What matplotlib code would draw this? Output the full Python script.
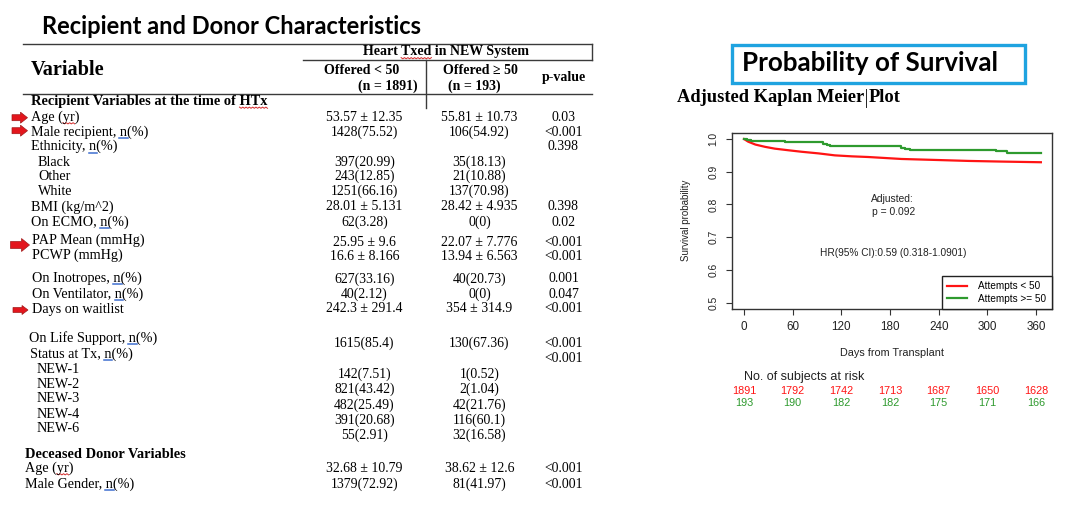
import matplotlib
matplotlib.use("Agg")
import matplotlib.pyplot as plt
from matplotlib.transforms import Affine2D
from matplotlib.lines import Line2D
from matplotlib.patches import FancyArrow, Rectangle

# ------------------------------------------------------------------ data
row_labels = [
    "Recipient Variables at the time of HTx", "Age (yr)", "Male recipient, n(%)",
    "Ethnicity, n(%)", "Black", "Other", "White", "BMI (kg/m^2)", "On ECMO, n(%)",
    "PAP Mean (mmHg)", "PCWP (mmHg)", "On Inotropes, n(%)", "On Ventilator, n(%)",
    "Days on waitlist", "On Life Support, n(%)", "Status at Tx, n(%)", "NEW-1",
    "NEW-2", "NEW-3", "NEW-4", "NEW-6", "Deceased Donor Variables", "Age (yr)",
    "Male Gender, n(%)",
]
col1_vals = [
    "", "53.57 ± 12.35", "1428(75.52)", "", "397(20.99)", "243(12.85)", "1251(66.16)",
    "28.01 ± 5.131", "62(3.28)", "25.95 ± 9.6", "16.6 ± 8.166", "627(33.16)", "40(2.12)",
    "242.3 ± 291.4", "1615(85.4)", "", "142(7.51)", "821(43.42)", "482(25.49)",
    "391(20.68)", "55(2.91)", "", "32.68 ± 10.79", "1379(72.92)",
]
col2_vals = [
    "", "55.81 ± 10.73", "106(54.92)", "", "35(18.13)", "21(10.88)", "137(70.98)",
    "28.42 ± 4.935", "0(0)", "22.07 ± 7.776", "13.94 ± 6.563", "40(20.73)", "0(0)",
    "354 ± 314.9", "130(67.36)", "", "1(0.52)", "2(1.04)", "42(21.76)", "116(60.1)",
    "32(16.58)", "", "38.62 ± 12.6", "81(41.97)",
]
p_vals = [
    "", "0.03", "<0.001", "0.398", "", "", "", "0.398", "0.02", "<0.001", "<0.001",
    "0.001", "0.047", "<0.001", "<0.001", "<0.001", "", "", "", "", "", "", "<0.001",
    "<0.001",
]
group1_name = "Offered < 50"
group2_name = "Offered ≥ 50"
group1_n = "(n = 1891)"
group2_n = "(n = 193)"

km_red_days = [0, 5, 14, 26, 38, 55, 71, 92, 112, 133, 153, 194, 236, 277, 318, 366]
km_red_surv = [1.0, 0.992, 0.983, 0.976, 0.9705, 0.9655, 0.961, 0.956, 0.950, 0.947,
               0.945, 0.939, 0.936, 0.933, 0.931, 0.929]
km_green_days = [0, 4, 9, 50, 98, 102, 106, 193, 198, 205, 311, 324, 366]
km_green_surv = [1.0, 0.997, 0.994, 0.990, 0.985, 0.982, 0.979, 0.974, 0.970, 0.967,
                 0.962, 0.956, 0.956]
risk_times = [0, 60, 120, 180, 240, 300, 360]
risk_red = [1891, 1792, 1742, 1713, 1687, 1650, 1628]
risk_green = [193, 190, 182, 182, 175, 171, 166]
surv_ticks = [0.5, 0.6, 0.7, 0.8, 0.9, 1.0]
legend_labels = ["Attempts < 50", "Attempts >= 50"]

# ------------------------------------------------------------------ layout
W, H = 1079, 505
fig = plt.figure(figsize=(W / 100, H / 100), dpi=100)
fig.patch.set_facecolor("white")
px = Affine2D().scale(1 / W, -1 / H).translate(0, 1) + fig.transFigure

SERIF = ["Liberation Serif", "DejaVu Serif"]
SANS = ["Liberation Sans", "DejaVu Sans"]
TITLEF = ["Lato", "DejaVu Sans"]
RED = "#FF1414"
GREEN = "#2E9A2E"

renderer = fig.canvas.get_renderer()


def fit(t, target_w):
    bb = t.get_window_extent(renderer=renderer)
    t.set_fontsize(t.get_fontsize() * target_w / bb.width)


def text_w(s, **kw):
    tmp = fig.text(0, 0, s, **kw)
    w = tmp.get_window_extent(renderer=renderer).width
    tmp.remove()
    return w


def hline(x0, x1, y, lw=1.0, c="#3a3a3a"):
    fig.add_artist(Line2D([x0, x1], [y, y], transform=px, lw=lw, color=c))


def vline(x, y0, y1, lw=1.0, c="#3a3a3a"):
    fig.add_artist(Line2D([x, x], [y0, y1], transform=px, lw=lw, color=c))


def squiggle(x0, x1, y, c="#D42A2A"):
    n = max(2, int((x1 - x0) / 1.6))
    xs = [x0 + (x1 - x0) * k / n for k in range(n + 1)]
    ys = [y + (0.8 if k % 2 else -0.4) for k in range(n + 1)]
    fig.add_artist(Line2D(xs, ys, transform=px, lw=0.7, color=c))


def mark_sub(s, key, nchar, x0, y, props, kind):
    # mark the first `nchar` characters of substring `key` inside `s` drawn at x0
    i = s.index(key)
    sub = key[:nchar]
    pre = s[: i + nchar]
    xe = x0 + text_w(pre, **props)
    xs = xe - text_w(sub, **props)
    if kind == "red":
        squiggle(xs, xe, y)
    else:
        hline(xs - 0.5, xe + 1.0, y, lw=1.1, c="#3E6FD0")


# ---- left title
t = fig.text(42, 27, "Recipient and Donor Characteristics", transform=px, family=TITLEF,
             weight="bold", fontsize=15, va="center", ha="left")
fit(t, 381)

# ---- table rules
hline(23, 592, 44)
vline(592, 44, 59.5)
hline(303, 592, 59.5)
vline(425.5, 59.5, 108)
hline(23, 592, 93.5)

# ---- header texts
fig.text(31, 70, "Variable", transform=px, family=SERIF, weight="bold", fontsize=14.6,
         va="center", ha="left")
hdr = dict(transform=px, family=SERIF, weight="bold", fontsize=10)
th = fig.text(446, 52, "Heart Txed in NEW System", va="center", ha="center", **hdr)
fig.text(362, 70, group1_name, va="center", ha="center", **hdr)
fig.text(388, 86, group1_n, va="center", ha="center", **hdr)
fig.text(480, 70, group2_name, va="center", ha="center", **hdr)
fig.text(474, 86, group2_n, va="center", ha="center", **hdr)
fig.text(563.5, 78, "p-value", va="center", ha="center", **hdr)
hw_ = th.get_window_extent(renderer=renderer).width
mark_sub("Heart Txed in NEW System", "Txed", 4, 446 - hw_ / 2, 58,
         dict(family=SERIF, weight="bold", fontsize=10), "red")

# ---- body rows
label_x = [31, 31, 31, 31, 38, 38, 38, 30.6, 31.4, 32.5, 32.5, 32.5, 32.5, 32.5, 28.7,
           29.9, 36.4, 36.4, 36.4, 36.4, 36.4, 24.9, 24.9, 24.9]
label_y = [101.7, 117.3, 132.3, 146.7, 162, 176.7, 191.7, 207, 222, 240.5, 255, 278,
           294, 309, 338.3, 354.3, 369.3, 384, 399, 414.3, 428.5, 454, 468.3, 484]
value_y = [101.7, 117.3, 132.3, 146.7, 162, 176.7, 191.7, 207, 222, 242.5, 257, 279,
           294, 309, 343.3, 359, 374.3, 389.3, 405, 420, 435, 454, 468.3, 484]
bold_rows = {0, 21}
C1, C2, CP = 364.5, 479.5, 563.5
for i, lab in enumerate(row_labels):
    props = dict(family=SERIF, weight="bold" if i in bold_rows else "normal",
                 fontsize=10.4 if i in bold_rows else 10.2)
    fig.text(label_x[i], label_y[i], lab, transform=px, va="center", ha="left", **props)
    uy = label_y[i] + 5.8
    if "HTx" in lab:
        mark_sub(lab, "HTx", 3, label_x[i], uy, props, "red")
    if "(yr)" in lab:
        mark_sub(lab, "yr)", 2, label_x[i], uy, props, "red")
    if "n(%)" in lab:
        mark_sub(lab, "n(%)", 1, label_x[i], uy, props, "blue")
    for cx, vals in ((C1, col1_vals), (C2, col2_vals), (CP, p_vals)):
        if vals[i]:
            fig.text(cx, value_y[i], vals[i], transform=px, family=SERIF, fontsize=9.9,
                     va="center", ha="center")

# ---- red arrows
arrow_rows = [(117.7, 12, 27.5, 6, 11, 7), (130.7, 12, 27.5, 6, 11, 7),
              (245, 10.5, 29.5, 7, 13, 8), (310, 13, 28, 5, 9, 6)]
for y, x0, x1, w, hw, hl in arrow_rows:
    fig.add_artist(FancyArrow(x0, y, x1 - x0, 0, width=w, head_width=hw, head_length=hl,
                              length_includes_head=True, transform=px,
                              facecolor="#E3161D", edgecolor="#A01A1A", lw=0.5))

# ---- right header box
fig.add_artist(Rectangle((732, 45), 293, 37.7, transform=px, fill=False,
                         edgecolor="#1FA3E0", lw=2.4))
t = fig.text(742.5, 63, "Probability of Survival", transform=px, family=TITLEF,
             weight="bold", fontsize=16, va="center", ha="left")
fit(t, 257)

t1 = fig.text(677, 98, "Adjusted Kaplan Meier", transform=px, family=SERIF,
              weight="bold", fontsize=13, va="center", ha="left")
t2 = fig.text(0, 98, "Plot", transform=px, family=SERIF, weight="bold", fontsize=13,
              va="center", ha="left")
w1 = t1.get_window_extent(renderer=renderer).width
w2 = t2.get_window_extent(renderer=renderer).width
scale = 223 / (w1 + w2 + 4)
t1.set_fontsize(13 * scale)
t2.set_fontsize(13 * scale)
w1 = t1.get_window_extent(renderer=renderer).width
t2.set_position((677 + w1 + 4, 98))
vline(677 + w1 + 1.5, 89, 107, lw=0.7, c="#222222")

# ---- KM axes
ax = fig.add_axes([732 / W, 1 - 309 / H, 320 / W, 176 / H])
ax.plot(km_red_days, km_red_surv, color=RED, lw=1.6, label=legend_labels[0])
ax.plot(km_green_days, km_green_surv, color=GREEN, lw=1.6, drawstyle="steps-post",
        label=legend_labels[1])
ax.set_xlim(-14.8, 379.7)
ax.set_ylim(0.4808, 1.0183)
ax.set_xticks(risk_times)
ax.set_yticks(surv_ticks)
ax.set_xticklabels([str(v) for v in risk_times], family=SANS, fontsize=8.4, color="#222")
ax.set_yticklabels([f"{v:.1f}" for v in surv_ticks], family=SANS, fontsize=7.4,
                   color="#222", rotation=90, va="center")
ax.tick_params(axis="x", direction="out", length=4.3, width=0.8, pad=4.5, color="#333")
ax.tick_params(axis="y", direction="out", length=4.3, width=0.8, pad=5.5, color="#333")
for s in ax.spines.values():
    s.set_linewidth(1.0)
    s.set_color("#333333")

ax.text(0.5, (309 - 353) / 176, "Days from Transplant", transform=ax.transAxes,
        family=SANS, fontsize=7.8, ha="center", va="center", color="#222")
ax.text((686 - 732) / 320, (309 - 220) / 176, "Survival probability", transform=ax.transAxes,
        family=SANS, fontsize=7.0, rotation=90, ha="center", va="center", color="#222")

ax.text(183, 0.817, "Adjusted:", family=SANS, fontsize=7.4, ha="center", va="center",
        color="#222")
ax.text(185, 0.777, "p = 0.092", family=SANS, fontsize=7.4, ha="center", va="center",
        color="#222")
ax.text(183.3, 0.652, "HR(95% CI):0.59 (0.318-1.0901)", family=SANS, fontsize=7.3,
        ha="center", va="center", color="#222")

leg = ax.legend(loc="lower right", bbox_to_anchor=(1.0, 0.0), borderaxespad=0.0,
                fancybox=False, edgecolor="#222222", framealpha=1.0,
                prop={"family": SANS, "size": 7.2}, handlelength=2.0, handletextpad=1.1,
                borderpad=0.55, labelspacing=0.25)
leg.get_frame().set_linewidth(1.0)

xt = ax.get_xaxis_transform()


def ay(ypx):
    return (309 - ypx) / 176


ax.text(0, ay(377), "No. of subjects at risk", transform=xt, family=SANS, fontsize=9,
        ha="left", va="center", color="#222", clip_on=False)
for tm, r, g in zip(risk_times, risk_red, risk_green):
    ax.text(tm, ay(391), str(r), transform=xt, family=SANS, fontsize=7.8, ha="center",
            va="center", color=RED, clip_on=False)
    ax.text(tm, ay(403), str(g), transform=xt, family=SANS, fontsize=7.8, ha="center",
            va="center", color=GREEN, clip_on=False)

fig.savefig("out.png", dpi=100, facecolor="white")
